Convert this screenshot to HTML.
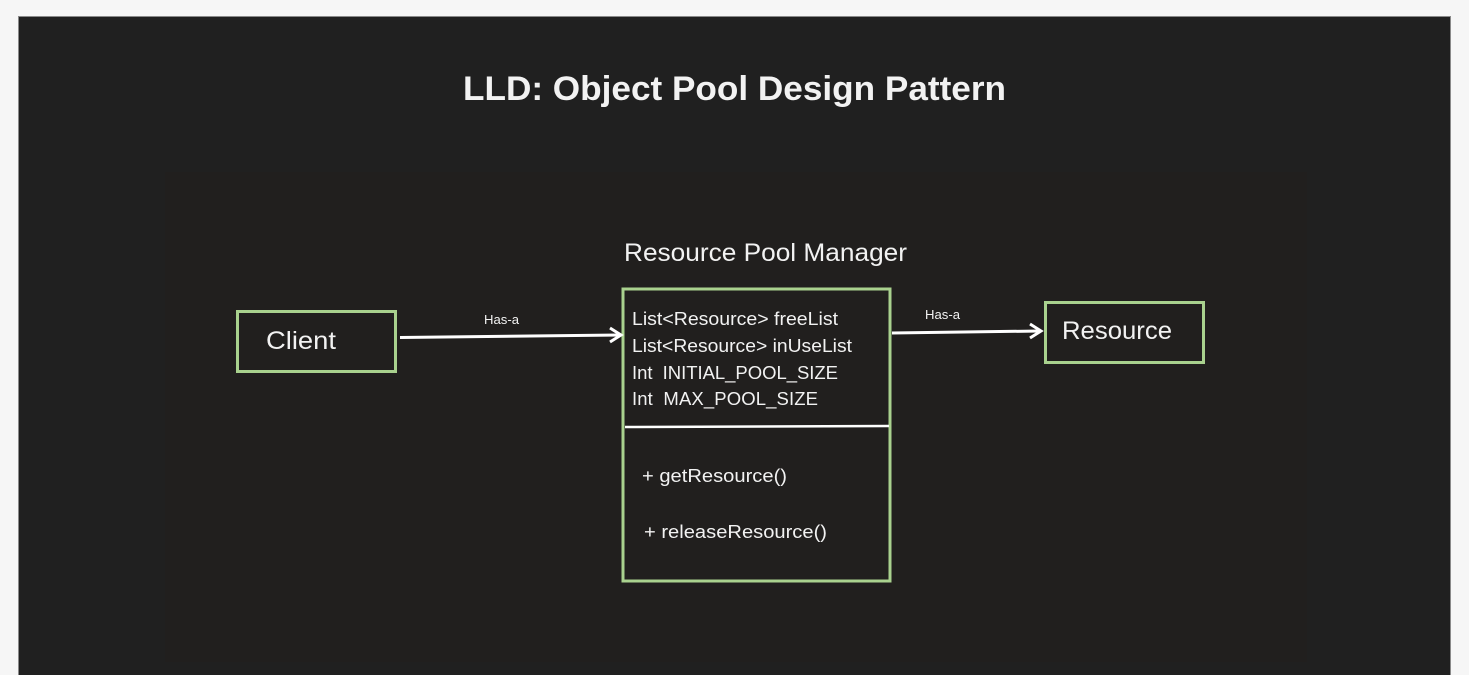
<!DOCTYPE html>
<html><head><meta charset="utf-8"><style>
html,body{margin:0;padding:0;background:#f6f6f6;width:1469px;height:675px;overflow:hidden}
svg{display:block}
text{font-family:"Liberation Sans",sans-serif;fill:#f2f2f2}
</style></head><body>
<svg width="1469" height="675" xmlns="http://www.w3.org/2000/svg">
<rect x="18.5" y="16.5" width="1432" height="670" fill="#202020" stroke="#8a8a8a" stroke-width="1"/>
<rect x="165" y="172" width="1142" height="490" fill="#211f1e"/>
<text x="463" y="100" font-size="34" font-weight="bold" fill="#ffffff" textLength="543" lengthAdjust="spacingAndGlyphs">LLD: Object Pool Design Pattern</text>
<text x="624" y="261" font-size="25" textLength="283" lengthAdjust="spacingAndGlyphs">Resource Pool Manager</text>
<rect x="237.5" y="311.5" width="158" height="60" fill="none" stroke="#a9d18e" stroke-width="3"/>
<text x="266" y="349" font-size="25" textLength="70" lengthAdjust="spacingAndGlyphs">Client</text>
<rect x="623" y="289" width="267" height="292" fill="none" stroke="#a9d18e" stroke-width="3"/>
<line x1="625" y1="427" x2="889" y2="426" stroke="#fff" stroke-width="2.5"/>
<g font-size="18.5">
<text x="632" y="325" textLength="206" lengthAdjust="spacingAndGlyphs">List&lt;Resource&gt; freeList</text>
<text x="632" y="352" textLength="220" lengthAdjust="spacingAndGlyphs">List&lt;Resource&gt; inUseList</text>
<text x="632" y="379" textLength="206" lengthAdjust="spacing" xml:space="preserve">Int  INITIAL_POOL_SIZE</text>
<text x="632" y="405" textLength="186" lengthAdjust="spacing" xml:space="preserve">Int  MAX_POOL_SIZE</text>
<text x="642" y="482" textLength="145" lengthAdjust="spacingAndGlyphs">+ getResource()</text>
<text x="644" y="538" textLength="183" lengthAdjust="spacingAndGlyphs">+ releaseResource()</text>
</g>
<rect x="1045.5" y="302.5" width="158" height="60" fill="none" stroke="#a9d18e" stroke-width="3"/>
<text x="1062" y="339" font-size="25" textLength="110" lengthAdjust="spacingAndGlyphs">Resource</text>
<line x1="400" y1="337.5" x2="620" y2="335" stroke="#fff" stroke-width="3"/>
<polyline points="610,328 621,335 610,342" fill="none" stroke="#fff" stroke-width="3"/>
<text x="484" y="324" font-size="13" textLength="35" lengthAdjust="spacingAndGlyphs">Has-a</text>
<line x1="892" y1="333" x2="1040" y2="331" stroke="#fff" stroke-width="3"/>
<polyline points="1030,324 1041,331 1030,338" fill="none" stroke="#fff" stroke-width="3"/>
<text x="925" y="319" font-size="13" textLength="35" lengthAdjust="spacingAndGlyphs">Has-a</text>
</svg>
</body></html>
